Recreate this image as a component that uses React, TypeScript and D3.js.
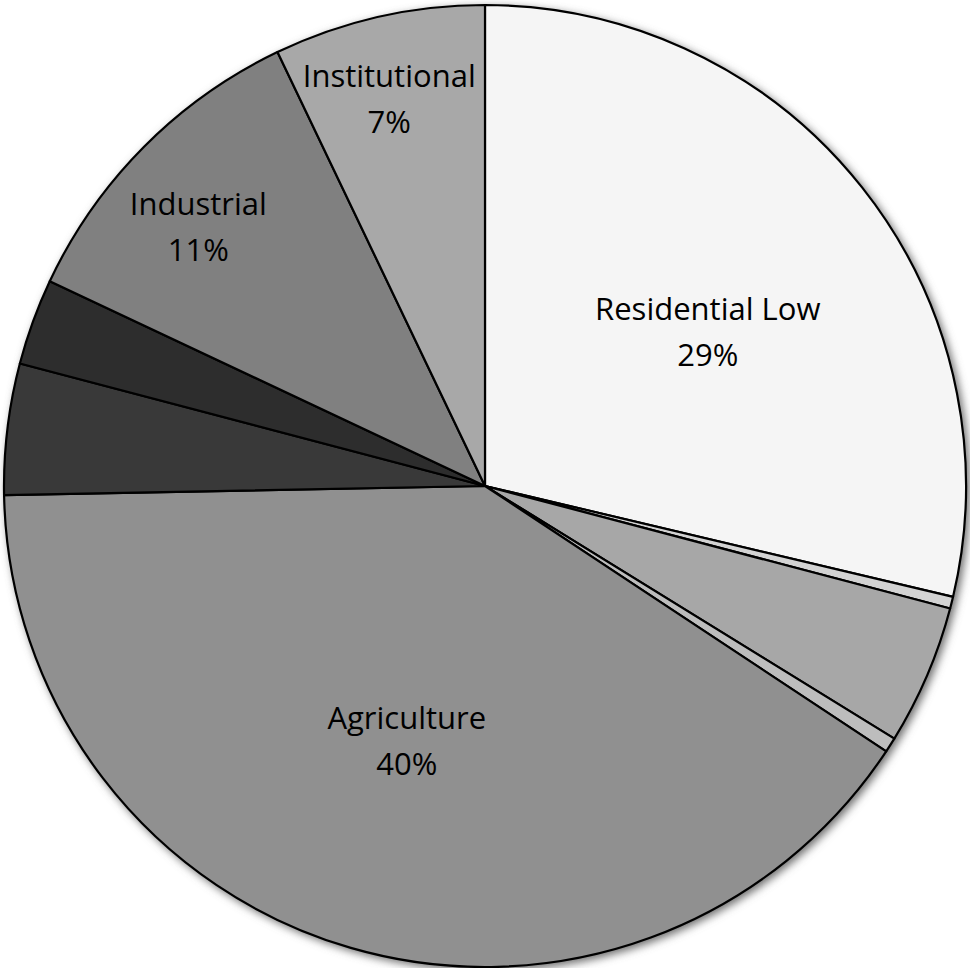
import React from "react";
import * as d3 from "d3";

const categories = [
  "Residential Low",
  "Residential Medium",
  "Commercial",
  "Residential High",
  "Agriculture",
  "Open Space",
  "Water",
  "Industrial",
  "Institutional",
];
const values = [28.7, 0.4, 4.7, 0.5, 40.4, 4.4, 2.9, 10.9, 7.1];
const showLabel = [true, false, false, false, true, false, false, true, true];

const colors = ["#f5f5f5", "#d3d3d3", "#a7a7a7", "#bdbdbd", "#909090", "#393939", "#2d2d2d", "#808080", "#a8a8a8"];
// label placement: radius and angle adjustment (radians)
const labelPos: Record<string, { r: number; da: number; dy: number }> = {
  "Residential Low": { r: 272, da: 0.058, dy: -10 },
  Agriculture: { r: 265, da: 0.017, dy: -10 },
  Industrial: { r: 389, da: -0.04, dy: -8 },
  Institutional: { r: 398, da: -0.02, dy: -13 },
};

const W = 970;
const H = 968;
const cx = 485;
const cy = 486;
const R = 481;

export default function App() {
  const data = categories.map((c, i) => ({ name: c, value: values[i], color: colors[i], show: showLabel[i] }));
  const pie = d3.pie<any>().value((d) => d.value).sort(null);
  const arcs = pie(data);
  const arc = d3.arc<any>().innerRadius(0).outerRadius(R);
  const total = d3.sum(values);

  return (
    <svg width={W} height={H} style={{ position: "absolute", left: 0, top: 0, background: "#fff" }}>
      <defs>
        <filter id="sh" x="-10%" y="-10%" width="120%" height="120%">
          <feGaussianBlur stdDeviation="4" />
        </filter>
      </defs>
      <circle cx={cx + 3} cy={cy + 3} r={R + 1} fill="#707070" filter="url(#sh)" />
      <g transform={`translate(${cx},${cy})`}>
        {arcs.map((a, i) => (
          <path key={i} d={arc(a) || ""} fill={a.data.color} stroke="#000" strokeWidth={2.2} strokeLinejoin="round" />
        ))}
        {arcs.map((a, i) => {
          if (!a.data.show) return null;
          const lp = labelPos[a.data.name];
          const ang = (a.startAngle + a.endAngle) / 2 + lp.da;
          const x = Math.sin(ang) * lp.r;
          const y = -Math.cos(ang) * lp.r;
          const pct = Math.round((a.data.value / total) * 100) + "%";
          return (
            <text
              key={"t" + i}
              x={x}
              y={y}
              textAnchor="middle"
              fontFamily="'Open Sans', sans-serif"
              fontSize={31}
              fill="#000"
            >
              <tspan x={x} dy={lp.dy}>{a.data.name}</tspan>
              <tspan x={x} dy={46}>{pct}</tspan>
            </text>
          );
        })}
      </g>
    </svg>
  );
}
